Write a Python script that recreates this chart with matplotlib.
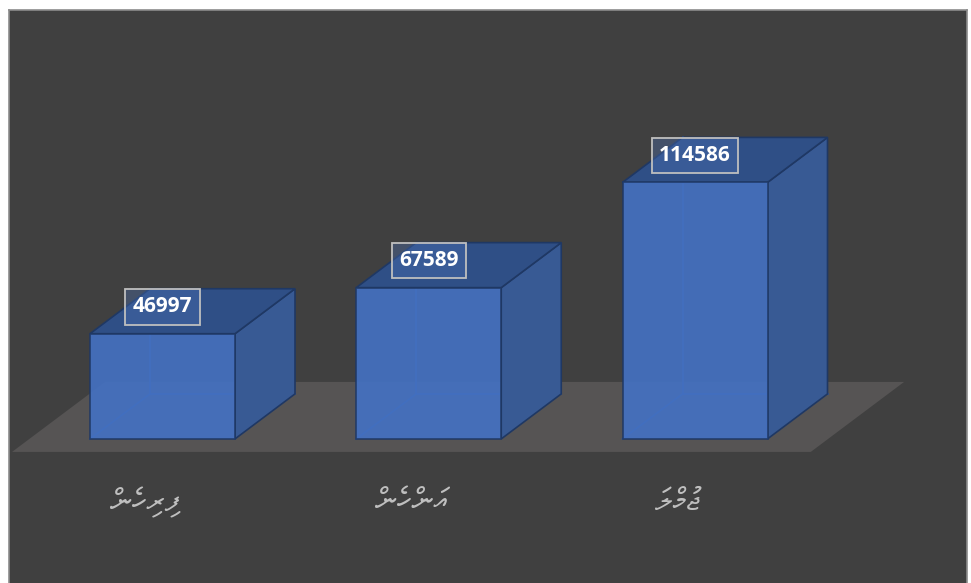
import numpy as np
import matplotlib.pyplot as plt
from matplotlib.patches import Polygon

# data
categories = ['ފިރިހެން', 'އަންހެން', 'ޖުމްލަ']
values = [46997, 67589, 114586]

# colours
panel_bg = '#404040'
floor_col = '#565454'
front_col = '#4472C4'
side_col = '#385A94'
top_col = '#2F4F86'
edge_col = '#1F3864'

# layout in pixels (figure is 971 x 583 at dpi 100)
PX_X = 266.25      # pixels per category
PX_V = 0.0022385   # pixels per unit of value
DEPTH_DX = 60      # oblique depth offset, pixels
DEPTH_DY = 45
BAR_W = 145 / PX_X / 2


def visual_order(s):
    # matplotlib draws left to right with no shaping: reverse the clusters
    # for right-to-left Thaana and put each vowel mark before its letter
    clusters = []
    for ch in s:
        if 0x07A6 <= ord(ch) <= 0x07B0 and clusters:
            clusters[-1] += ch
        else:
            clusters.append(ch)
    return ''.join(c[1:] + c[0] for c in reversed(clusters))


def proj(x, v, d):
    return (x + d * DEPTH_DX / PX_X, v + d * DEPTH_DY / PX_V)


fig = plt.figure(figsize=(9.71, 5.83), dpi=100)
fig.patch.set_facecolor('white')
ax = fig.add_axes([9 / 971, -0.005, 958 / 971, 576 / 583])
ax.set_facecolor(panel_bg)
ax.set_xlim(-153.5 / PX_X, (958 - 153.5) / PX_X)
ax.set_ylim(-147 / PX_V, 429 / PX_V)
ax.set_xticks([])
ax.set_yticks([])
for sp in ax.spines.values():
    sp.set_color('#8C8C8C')
    sp.set_linewidth(1.2)

# floor
f0, f1 = -13 / 45, 57 / 45
floor = [proj(-0.5, 0, f0), proj(len(values) - 0.5, 0, f0),
         proj(len(values) - 0.5, 0, f1), proj(-0.5, 0, f1)]
ax.add_patch(Polygon(floor, closed=True, fc=floor_col, ec='none', zorder=1))

for i, v in enumerate(values):
    xl, xr = i - BAR_W, i + BAR_W
    # hidden back edges seen through the front face
    for a, b in [((xl, 0, 1), (xl, v, 1)), ((xl, 0, 1), (xr, 0, 1)), ((xl, 0, 0), (xl, 0, 1))]:
        p, q = proj(*a), proj(*b)
        ax.plot([p[0], q[0]], [p[1], q[1]], color='#2E5597', lw=1.2, zorder=2)
    side = [proj(xr, 0, 0), proj(xr, 0, 1), proj(xr, v, 1), proj(xr, v, 0)]
    top = [proj(xl, v, 0), proj(xr, v, 0), proj(xr, v, 1), proj(xl, v, 1)]
    front = [proj(xl, 0, 0), proj(xr, 0, 0), proj(xr, v, 0), proj(xl, v, 0)]
    ax.add_patch(Polygon(side, closed=True, fc=side_col, ec=edge_col, lw=1.2, zorder=3))
    ax.add_patch(Polygon(top, closed=True, fc=top_col, ec=edge_col, lw=1.2, zorder=3))
    ax.add_patch(Polygon(front, closed=True, fc=front_col, ec=edge_col, lw=1.2,
                         alpha=0.9, zorder=4))

    ax.annotate(f'{v}', xy=(i, v), xytext=(0, 27), textcoords='offset pixels',
                ha='center', va='center', color='white', fontsize=15,
                fontweight='bold', family=['Open Sans', 'DejaVu Sans'], zorder=6,
                bbox=dict(boxstyle='square,pad=0.35', fc=(0.30, 0.45, 0.72, 0.35),
                          ec='#BFBFBF', lw=1.3))

    lx, lv = proj(i, 0, f0)
    ax.text(lx, lv - 51 / PX_V, visual_order(categories[i]), ha='center', va='center',
            color='#BFBFBF', fontsize=22, family=['FreeSerif', 'DejaVu Sans'], zorder=5)

fig.savefig('out.png', dpi=100)
